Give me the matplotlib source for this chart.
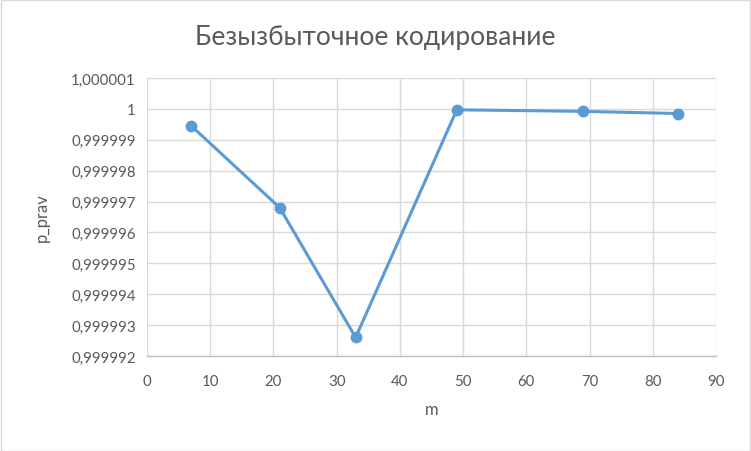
import matplotlib
matplotlib.use("Agg")
import matplotlib.pyplot as plt
from matplotlib.patches import Rectangle

plt.rcParams['font.family'] = ['Lato', 'Open Sans', 'DejaVu Sans']

m_vals = [7, 21, 33, 49, 69, 84]
p_vals = [0.99999945, 0.9999968, 0.9999926, 0.99999997, 0.99999992, 0.99999985]
x_ticks = [0, 10, 20, 30, 40, 50, 60, 70, 80, 90]
y_ticks = [0.999992, 0.999993, 0.999994, 0.999995, 0.999996, 0.999997,
           0.999998, 0.999999, 1.0, 1.000001]
y_tick_labels = ["0,999992", "0,999993", "0,999994", "0,999995", "0,999996",
                 "0,999997", "0,999998", "0,999999", "1", "1,000001"]
title = "Безызбыточное кодирование"

W, H = 751, 452
fig = plt.figure(figsize=(W / 100, H / 100), dpi=100)
ax = fig.add_axes([147 / W, 1 - 357 / H, (716 - 147) / W, (357 - 79) / H])

ax.plot(m_vals, p_vals, color='#5B9BD5', linewidth=2.2, marker='o',
        markersize=7.5, markerfacecolor='#5B9BD5', markeredgecolor='#5B9BD5',
        zorder=3)

ax.set_xlim(0, 90)
ax.set_ylim(0.999992, 1.000001)
ax.set_xticks(x_ticks)
ax.set_xticklabels([str(v) for v in x_ticks])
ax.set_yticks(y_ticks)
ax.set_yticklabels(y_tick_labels)
ax.grid(True, color='#D9D9D9', linewidth=1)
ax.set_axisbelow(True)
for s in ['top', 'right', 'left']:
    ax.spines[s].set_visible(False)
ax.spines['bottom'].set_color('#BFBFBF')
ax.spines['bottom'].set_linewidth(1)
ax.tick_params(axis='both', length=0, colors='#595959', labelsize=10.8)
ax.tick_params(axis='x', pad=13)
ax.tick_params(axis='y', pad=8)
ax.yaxis.get_offset_text().set_visible(False)

ax.set_xlabel('m', color='#595959', fontsize=12, labelpad=9)
ax.set_ylabel('p_prav', color='#595959', fontsize=12, labelpad=15)

fig.text(0.5, 1 - 38 / H, title, ha='center', va='center', fontsize=19,
         color='#595959')

fig.patches.append(Rectangle((0.5 / W, 0.5 / H), (W - 1.5) / W, (H - 1.5) / H,
                             transform=fig.transFigure, fill=False,
                             edgecolor='#D9D9D9', linewidth=1))

fig.savefig('out.png', dpi=100, facecolor='white')
